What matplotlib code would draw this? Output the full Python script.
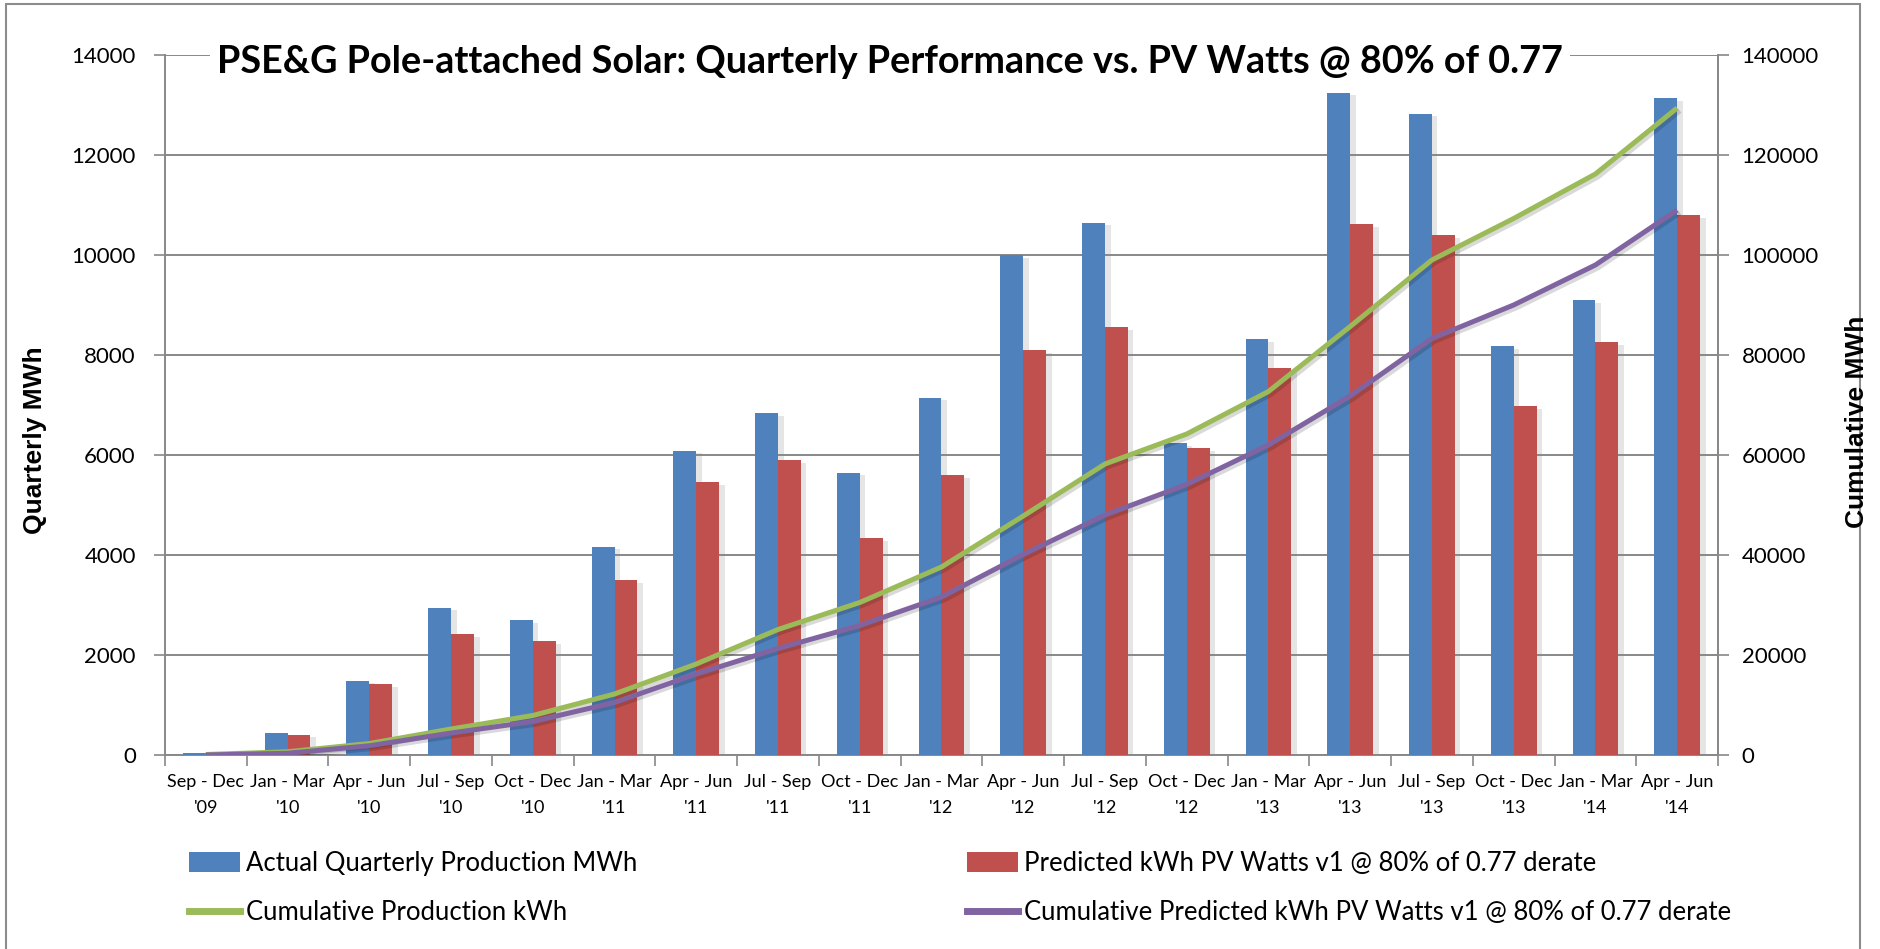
import numpy as np
import matplotlib
matplotlib.use('Agg')
import matplotlib.pyplot as plt
import matplotlib.patheffects as pe
from matplotlib.lines import Line2D
from matplotlib.patches import Patch, Rectangle

plt.rcParams['font.family'] = ['Lato', 'DejaVu Sans']

# quarters on the x axis
categories = ["Sep - Dec\n'09", "Jan - Mar\n'10", "Apr - Jun\n'10", "Jul - Sep\n'10",
              "Oct - Dec\n'10", "Jan - Mar\n'11", "Apr - Jun\n'11", "Jul - Sep\n'11",
              "Oct - Dec\n'11", "Jan - Mar\n'12", "Apr - Jun\n'12", "Jul - Sep\n'12",
              "Oct - Dec\n'12", "Jan - Mar\n'13", "Apr - Jun\n'13", "Jul - Sep\n'13",
              "Oct - Dec\n'13", "Jan - Mar\n'14", "Apr - Jun\n'14"]

# quarterly bars (left axis)
actual = [40, 450, 1490, 2950, 2700, 4170, 6090, 6840, 5650, 7150,
          10000, 10650, 6235, 8320, 13250, 12830, 8185, 9100, 13140]
predicted = [10, 410, 1415, 2420, 2285, 3500, 5465, 5900, 4335, 5605,
             8105, 8555, 6145, 7745, 10625, 10400, 6980, 8265, 10800]

# cumulative lines (right axis)
cum_actual = [100, 650, 2300, 5200, 7900, 12200, 18200, 25100, 30500, 37600,
              47800, 58200, 64200, 72700, 85700, 99000, 107300, 116200, 129400]
cum_pred = [0, 350, 1850, 4400, 6700, 10500, 16200, 21300, 25900, 31600,
            40100, 48000, 54100, 62000, 71800, 83300, 90000, 98000, 109000]

lbl_actual = 'Actual Quarterly Production MWh'
lbl_pred = 'Predicted kWh PV Watts v1 @ 80% of 0.77 derate'
lbl_cum = 'Cumulative Production kWh'
lbl_cum_pred = 'Cumulative Predicted kWh PV Watts v1 @ 80% of 0.77 derate'

BLUE = '#4F81BD'
RED = '#C0504D'
GREEN = '#9BBB59'
PURPLE = '#8064A2'
GRID = '#888888'

W, H = 1880, 949
fig = plt.figure(figsize=(W / 100, H / 100), dpi=100)

# plot area in pixels
x0, x1, y0, y1 = 165, 1718, 55, 755
ax = fig.add_axes([x0 / W, 1 - y1 / H, (x1 - x0) / W, (y1 - y0) / H])

x = np.arange(len(categories))
bw = 0.28
shadow = [pe.SimplePatchShadow(offset=(4, -2), shadow_rgbFace='#8a8a8a', alpha=0.22), pe.Normal()]
b1 = ax.bar(x - bw / 2, actual, bw, color=BLUE, zorder=3)
b2 = ax.bar(x + bw / 2, predicted, bw, color=RED, zorder=3)
for b in list(b1) + list(b2):
    b.set_path_effects(shadow)

ax.set_xlim(-0.5, len(categories) - 0.5)
ax.set_ylim(0, 14000)
ax.set_yticks(np.arange(0, 14001, 2000))
ax.yaxis.grid(True, color=GRID, lw=1.4, zorder=0)
ax.set_axisbelow(True)

ax.set_xticks(x)
ax.set_xticklabels(categories, fontsize=13, linespacing=1.75)
ax.set_xticks(np.arange(-0.5, len(categories)), minor=True)
ax.tick_params(axis='x', which='major', length=0, pad=14)
ax.tick_params(axis='x', which='minor', length=8, width=1.2, color=GRID, direction='out')
ax.tick_params(axis='y', length=8, width=1.2, color=GRID, direction='out', labelsize=16, pad=13)

ax.spines['top'].set_visible(False)
for s in ['left', 'bottom', 'right']:
    ax.spines[s].set_color(GRID)
    ax.spines[s].set_linewidth(1.4)

# cumulative lines on the second axis
ax2 = ax.twinx()
line_fx = [pe.SimpleLineShadow(offset=(2, -2), alpha=0.15), pe.Normal()]
ax2.plot(x, cum_actual, color=GREEN, lw=3.6, path_effects=line_fx, solid_capstyle='butt')
ax2.plot(x, cum_pred, color=PURPLE, lw=3.6, path_effects=line_fx, solid_capstyle='butt')
ax2.set_ylim(0, 140000)
ax2.set_yticks(np.arange(0, 140001, 20000))
ax2.tick_params(axis='y', length=8, width=1.2, color=GRID, direction='out', labelsize=16, pad=9)
for s in ['top', 'left', 'bottom']:
    ax2.spines[s].set_visible(False)
ax2.spines['right'].set_color(GRID)
ax2.spines['right'].set_linewidth(1.4)

# axis titles
fig.text(35 / W, 1 - 440 / H, 'Quarterly MWh', rotation=90, ha='center', va='center',
         fontsize=19, fontweight='bold', family='Liberation Sans')
fig.text(1857 / W, 1 - 422 / H, 'Cumulative MWh', rotation=90, ha='center', va='center',
         fontsize=19, fontweight='bold', family='Liberation Sans')

# chart title with white box over the top gridline
fig.text(890 / W, 1 - 62 / H,
         'PSE&G Pole-attached Solar: Quarterly Performance vs. PV Watts @ 80% of 0.77',
         ha='center', va='center', fontsize=27.2, fontweight='bold',
         bbox=dict(boxstyle='square,pad=0.2', facecolor='white', edgecolor='none'))

# legend, two separate columns
h_actual = Patch(facecolor=BLUE)
h_pred = Patch(facecolor=RED)
h_cum = Line2D([], [], color=GREEN, lw=5)
h_cum_pred = Line2D([], [], color=PURPLE, lw=5)
kw = dict(loc='upper left', frameon=False, fontsize=18.5, handlelength=2.0, handleheight=0.8,
          handletextpad=0.2, labelspacing=0.95, borderpad=0, borderaxespad=0)
fig.legend([h_actual, h_cum], [lbl_actual, lbl_cum],
           bbox_to_anchor=(189 / W, 1 - 851 / H), **kw)
fig.legend([h_pred, h_cum_pred], [lbl_pred, lbl_cum_pred],
           bbox_to_anchor=(967 / W, 1 - 851 / H), **kw)

# outer chart border
fig.patches.append(Rectangle((6 / W, -0.02), (1860 - 6) / W, 1 - 4 / H + 0.02,
                             transform=fig.transFigure, fill=False,
                             edgecolor='#8c8c8c', lw=1.5))

fig.savefig('out.png', dpi=100)
